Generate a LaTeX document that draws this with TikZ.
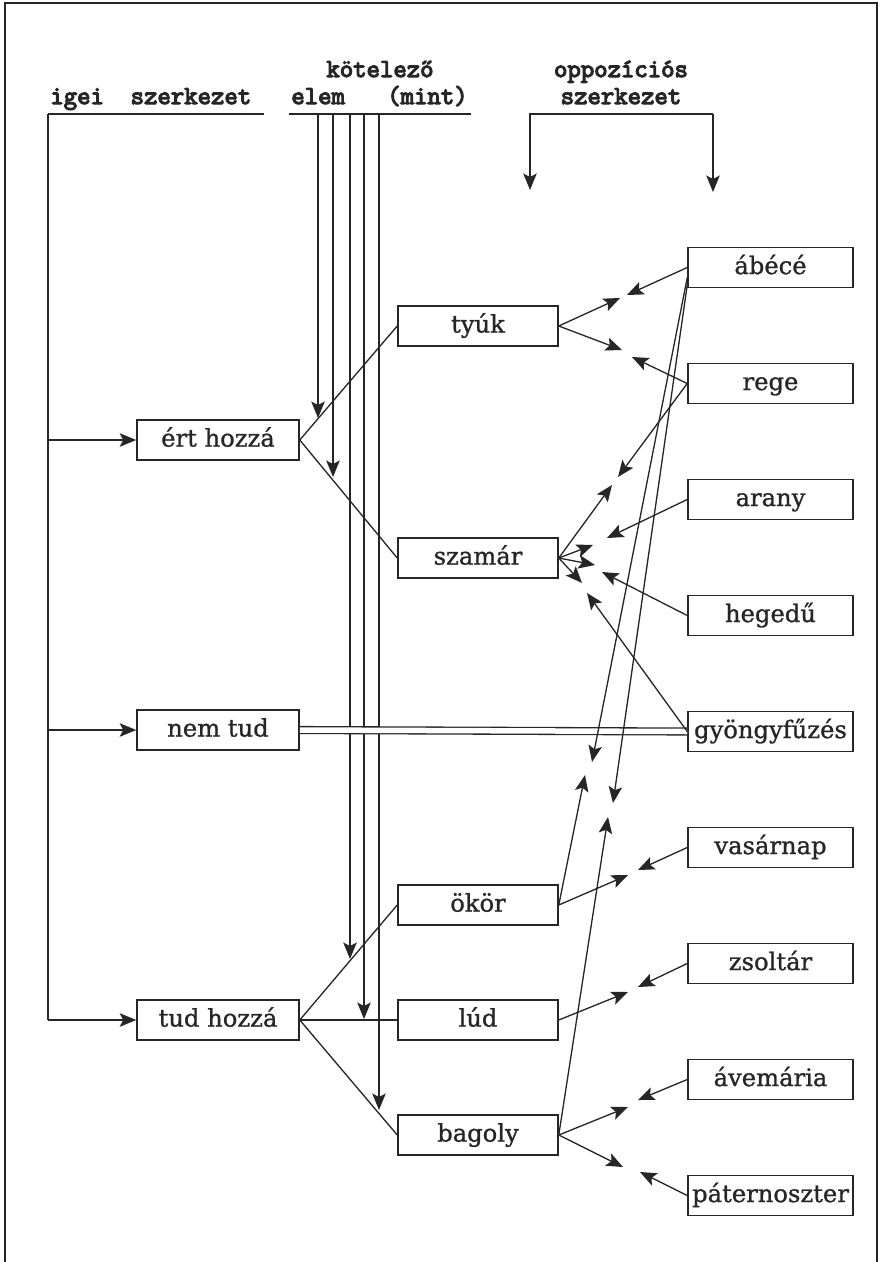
\documentclass[tikz,border=0pt]{standalone}
\usepackage{fontspec}
\newfontfamily\boxfont{DejaVu Serif}[FakeBold=1]
\newfontfamily\headfont{Latin Modern Mono}[FakeBold=4.5]
\usetikzlibrary{positioning,arrows.meta}
\definecolor{ink}{HTML}{262626}
\tikzset{
  item/.style ={draw=ink, line width=0.9pt, minimum height=8mm, inner sep=0pt, text=ink,
                text height=10.5pt, text depth=3pt, font=\boxfont\fontsize{13.8}{16}\selectfont},
  lword/.style={item, minimum width=3.24cm},
  mword/.style={item, minimum width=3.2cm},
  rword/.style={item, minimum width=3.3cm},
  head/.style ={inner sep=0pt, text=ink, font=\headfont\fontsize{14.8}{17}\selectfont},
  conn/.style ={draw=ink, line width=0.75pt},
  arr/.style  ={conn, -{Stealth[length=3.3mm,width=2.7mm,inset=0.7mm]}},
}
\begin{document}
\begin{tikzpicture}[x=0.02cm,y=-0.02cm]
  \useasboundingbox (0,0) rectangle (880,1262);
  \draw[conn, line width=0.9pt] (5,1262) -- (5,3) -- (877,3) -- (877,1262);

  % headings
  \node[head, anchor=base west] (igei) at (50,104)  {igei~~szerkezet};
  \node[head, anchor=base]      (kot)  at (380,77)  {kötelező};
  \node[head, anchor=base west] (elem) at (291,104) {elem};
  \node[head, anchor=base east] (mint) at (468,104) {(mint)};
  \node[head, anchor=base]      (opp)  at (621,77)  {oppozíciós};
  \node[head, anchor=base]      (szk)  at (621,104) {szerkezet};

  % verbs
  \node[lword] (ert)    at (218,440)  {ért hozzá};
  \node[lword] (nemtud) at (218,730)  {nem tud};
  \node[lword] (tud)    at (218,1020) {tud hozzá};

  % compared beings
  \node[mword] (tyuk)   at (478,326)  {tyúk};
  \node[mword] (szamar) at (478,558)  {szamár};
  \node[mword] (okor)   at (478,905)  {ökör};
  \node[mword] (lud)    at (478,1020) {lúd};
  \node[mword] (bagoly) at (478,1135) {bagoly};

  % opposed things
  \foreach \n/\t [count=\i from 0] in {abc/ábécé, rege/rege, arany/arany, hegedu/hegedű,
      gyongy/gyöngyfűzés, vasarnap/vasárnap, zsoltar/zsoltár, avemaria/ávemária, pater/páternoszter}
    \node[rword] (\n) at (770.5,267.5+116*\i) {\t};

  % igei szerkezet
  \coordinate (spine) at (48,114);
  \draw[conn] (spine) -- (264,114);
  \draw[conn] (spine) -- (spine |- tud.west);
  \foreach \n in {ert,nemtud,tud}
    \draw[arr] (spine |- \n.west) -- (\n.west);

  % kotelezo elem
  \draw[conn] (289,114) -- (471,114);
  \foreach \x/\y in {318/418,333/477,350/959,364/1019,379/1110}
    \draw[arr] (\x,114) -- (\x,\y);

  % oppozicios szerkezet
  \coordinate (oppL) at (530,190);
  \coordinate (oppR) at (713,192);
  \draw[arr] (oppR |- spine) -- (oppL |- spine) -- (oppL);
  \draw[arr] (oppR |- spine) -- (oppR);

  \draw[conn] (tyuk.west) -- (ert.east) -- (szamar.west);
  \draw[conn] (okor.west) -- (tud.east) -- (bagoly.west);
  \draw[conn] (tud.east) -- (lud.west);
  \draw[conn, double=white, double distance=1.1mm] (nemtud.east) -- (gyongy.west);

  % meeting points
  \foreach \n/\x/\y in {m1a/627/295, m1b/620/298, m2a/632/357, m2b/622/350,
      m3a/618/477, m3b/612/485, m4a/607/538, m4b/593/545,
      m5a/602/572, m5b/595/565, m6a/587/593, m6b/582/583,
      m7a/592/762, m7b/585/775, m8a/613/803, m8b/608/817,
      m9a/638/870, m9b/628/875, m10a/638/987, m10b/628/992,
      m11a/638/1100, m11b/628/1107, m12a/640/1172, m12b/623/1167}
    \coordinate (\n) at (\x,\y);

  \draw[arr] (abc.west) -- (m1a);
  \draw[arr] (tyuk.east) -- (m1b);
  \draw[arr] (rege.west) -- (m2a);
  \draw[arr] (tyuk.east) -- (m2b);
  \draw[arr] (rege.west) -- (m3a);
  \draw[arr] (szamar.east) -- (m3b);
  \draw[arr] (arany.west) -- (m4a);
  \draw[arr] (szamar.east) -- (m4b);
  \draw[arr] (hegedu.west) -- (m5a);
  \draw[arr] (szamar.east) -- (m5b);
  \draw[arr] (gyongy.west) -- (m6a);
  \draw[arr] (szamar.east) -- (m6b);
  \draw[arr] (abc.187) -- (m7a);
  \draw[arr] (okor.east) -- (m7b);
  \draw[arr] (abc.192) -- (m8a);
  \draw[arr] (bagoly.east) -- (m8b);
  \draw[arr] (vasarnap.west) -- (m9a);
  \draw[arr] (okor.east) -- (m9b);
  \draw[arr] (zsoltar.west) -- (m10a);
  \draw[arr] (lud.east) -- (m10b);
  \draw[arr] (avemaria.west) -- (m11a);
  \draw[arr] (bagoly.east) -- (m11b);
  \draw[arr] (pater.west) -- (m12a);
  \draw[arr] (bagoly.east) -- (m12b);
\end{tikzpicture}
\end{document}
